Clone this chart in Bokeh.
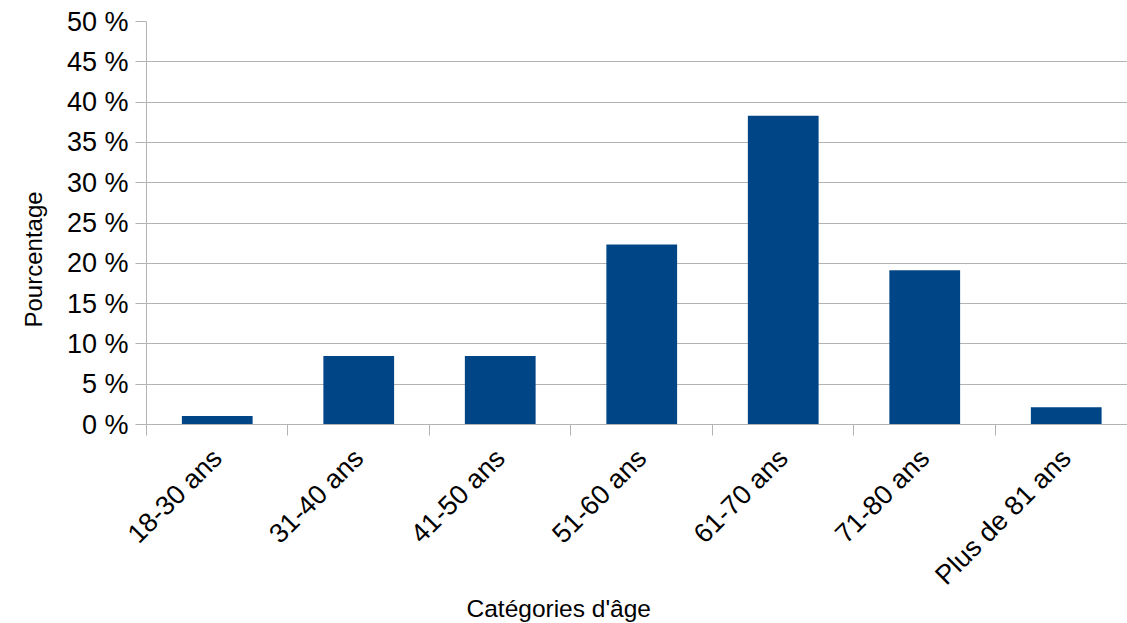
import math
from bokeh.plotting import figure
from bokeh.models import Range1d, FixedTicker, Title, ColumnDataSource
from bokeh.embed import file_html
from bokeh.resources import INLINE

categories = ["18-30 ans", "31-40 ans", "41-50 ans", "51-60 ans", "61-70 ans", "71-80 ans", "Plus de 81 ans"]
values = [1.06, 8.51, 8.51, 22.34, 38.30, 19.15, 2.13]
y_ticks = [0, 5, 10, 15, 20, 25, 30, 35, 40, 45, 50]
y_tick_labels = [f"{t} %" for t in y_ticks]
x_title = "Catégories d'âge"
y_title = "Pourcentage"

FONT = "Liberation Sans"
GRID = "#b3b3b3"
BAR = "#004586"

centers = [i + 0.5 for i in range(len(categories))]
bounds = [float(i) for i in range(len(categories) + 1)]

src = ColumnDataSource(dict(x=centers, top=values, cat=categories))

p = figure(
    frame_width=981, frame_height=403,
    min_border_left=146, min_border_right=0, min_border_top=21, min_border_bottom=199,
    x_range=Range1d(0, 6.933), y_range=Range1d(0, 50),
    output_backend="svg", toolbar_location=None,
)
p.outline_line_color = None
p.background_fill_color = "white"
p.border_fill_color = "white"

p.vbar(x="x", top="top", width=0.5, bottom=0, source=src, fill_color=BAR, line_color=None)

# y axis
p.yaxis.ticker = FixedTicker(ticks=y_ticks)
p.yaxis.major_label_overrides = {t: l for t, l in zip(y_ticks, y_tick_labels)}
p.yaxis.axis_line_color = GRID
p.yaxis.major_tick_line_color = GRID
p.yaxis.major_tick_out = 11
p.yaxis.major_tick_in = 0
p.yaxis.minor_tick_line_color = None
p.yaxis.major_label_standoff = 7
p.yaxis.major_label_text_font = FONT
p.yaxis.major_label_text_font_size = "27px"
p.yaxis.major_label_text_color = "black"

# x axis
p.xaxis.ticker = FixedTicker(ticks=centers, minor_ticks=bounds)
p.xaxis.major_label_overrides = {c: l for c, l in zip(centers, categories)}
p.xaxis.axis_line_color = GRID
p.xaxis.major_tick_line_color = None
p.xaxis.minor_tick_line_color = GRID
p.xaxis.minor_tick_out = 11
p.xaxis.minor_tick_in = 0
p.xaxis.major_label_orientation = math.pi / 4
p.xaxis.major_label_standoff = 18
p.xaxis.major_label_text_font = FONT
p.xaxis.major_label_text_font_size = "27px"
p.xaxis.major_label_text_color = "black"

p.xgrid.grid_line_color = None
p.ygrid.grid_line_color = GRID
p.ygrid.grid_line_width = 1

p.add_layout(Title(text=x_title, align="left", offset=320, standoff=-23, text_font=FONT,
                   text_font_size="24.5px", text_font_style="normal", text_color="black"), "below")
p.add_layout(Title(text=y_title, align="left", offset=97, standoff=34, text_font=FONT,
                   text_font_size="24px", text_font_style="normal", text_color="black"), "left")

open("out.html", "w").write(file_html(p, INLINE))
